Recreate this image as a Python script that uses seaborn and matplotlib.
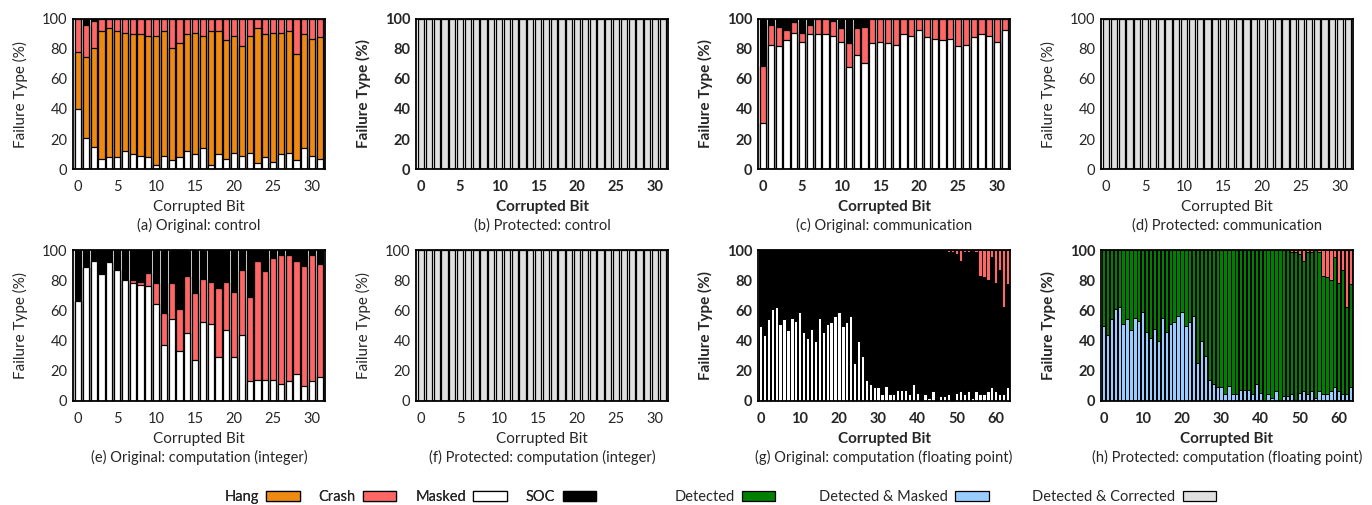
import numpy as np
import matplotlib
matplotlib.use("Agg")
import matplotlib.pyplot as plt
from matplotlib.patches import Patch
import seaborn as sns

# ---------------- data (percent per corrupted bit) ----------------

bits32 = list(range(32))
bits64 = list(range(64))

# (a) Original: control
masked_a = [40, 21, 15, 7, 8, 8, 12, 10, 9, 8, 3, 9, 6, 8, 12, 10,
            14, 3, 10, 7, 11, 9, 11, 4, 8, 5, 10, 11, 6, 14, 9, 7]
hang_a = [38, 54, 66, 85, 86, 84, 79, 80, 81, 81, 86, 83, 75, 76, 78, 81,
          75, 89, 82, 79, 78, 73, 78, 90, 82, 86, 81, 81, 71, 76, 78, 81]
crash_a = [22, 21, 18, 8, 6, 8, 9, 10, 10, 11, 11, 8, 19, 16, 10, 9,
           11, 8, 8, 14, 11, 18, 11, 6, 10, 9, 9, 8, 23, 10, 13, 12]

# (c) Original: communication
masked_c = [31, 83, 82, 86, 91, 85, 90, 90, 90, 89, 85, 68, 76, 71, 84, 85,
            84, 83, 90, 89, 93, 88, 87, 86, 87, 82, 83, 88, 90, 89, 85, 93]
crash_c = [38, 13, 13, 7, 7, 6, 6, 10, 10, 10, 9, 16, 18, 24, 16, 15,
           16, 17, 10, 11, 7, 12, 13, 14, 13, 18, 17, 12, 10, 11, 15, 7]

# (e) Original: computation (integer)
masked_e = [66, 89, 93, 84, 92, 87, 80, 78, 77, 76, 64, 37, 54, 33, 45, 27,
            52, 51, 29, 47, 29, 44, 13, 14, 14, 14, 11, 13, 18, 10, 13, 16]
crash_e = [0, 0, 0, 0, 0, 0, 0, 2, 1.5, 8.5, 14, 21, 24, 28, 38, 44.5,
           29, 27.5, 46, 32, 43, 43, 56, 78.5, 72, 80.5, 86, 83.5, 75, 79.5, 83.5, 74.5]

# (g)/(h) computation (floating point)
masked_g = [50, 44, 54, 61, 62, 51, 54, 47, 55, 53, 59, 46, 42, 48, 40, 55,
            46, 51, 52, 56, 59, 50, 52, 56, 25, 40, 30, 14, 11, 9, 9, 4.5,
            10, 4.5, 4.5, 7, 7, 7, 4.5, 11.5, 5.5, 0, 4.5, 2, 6.5, 0, 3.5, 3,
            4.5, 0, 5.5, 6.5, 4.5, 6.5, 2, 6.5, 4.5, 4.5, 6.5, 9, 6.5, 4.5, 4.5, 9]
crash_g = [0, 0, 0, 0, 0, 0, 0, 0, 0, 0, 0, 0, 0, 0, 0, 0,
           0, 0, 0, 0, 0, 0, 0, 0, 0, 0, 0, 0, 0, 0, 0, 0,
           0, 0, 0, 0, 0, 0, 0, 0, 0, 0, 0, 0, 0, 0, 0, 0,
           1.5, 1.5, 2.7, 7, 1.5, 1.5, 0, 1.5, 17.3, 17.7, 20, 4.4, 21.7, 13.3, 37.6, 22.6]

# protected control / communication / integer: everything detected & corrected
corrected_32 = [100] * 32

# remainders (SOC / Detected)
soc_a = list(np.clip(100 - np.array(masked_a) - hang_a - np.array(crash_a), 0, None))
soc_c = list(np.clip(100 - np.array(masked_c) - crash_c, 0, None))
soc_e = list(np.clip(100 - np.array(masked_e) - crash_e, 0, None))
soc_g = list(np.clip(100 - np.array(masked_g) - crash_g, 0, None))

C_HANG = "#EE8A12"
C_CRASH = "#FF6666"
C_MASKED = "#FFFFFF"
C_SOC = "#000000"
C_DET = "#007F00"
C_DETM = "#99CCFF"
C_DETC = "#E0E0E0"

# ---------------- style ----------------

sns.set_style("ticks")
plt.rcParams["font.family"] = ["Lato", "DejaVu Sans"]

fig = plt.figure(figsize=(13.72, 5.05), dpi=100)
W, H = 1372, 505


def add_ax(left_px, top_px, bottom_px, width_px=252):
    return fig.add_axes([left_px / W, 1 - bottom_px / H, width_px / W, (bottom_px - top_px) / H])


def stacked(ax, bits, layers, width, lw):
    tops = np.cumsum([np.asarray(v, float) for v, c in layers], axis=0)
    for i in range(len(layers) - 1, -1, -1):
        sns.barplot(x=bits, y=tops[i], color=layers[i][1], width=width,
                    saturation=1, errorbar=None, edgecolor="black",
                    linewidth=lw, ax=ax)


def finish(ax, n, caption, weight):
    ax.set_ylim(0, 100)
    step = 5 if n == 32 else 10
    ax.set_xlim(-0.65, n - 0.35)
    ax.set_xticks(list(range(0, n, step)))
    ax.set_xticklabels([str(t) for t in range(0, n, step)])
    ax.set_yticks([0, 20, 40, 60, 80, 100])
    ax.tick_params(axis="both", length=0, labelsize=10.5)
    ax.tick_params(axis="x", pad=8)
    ax.tick_params(axis="y", pad=4)
    for lab in ax.get_xticklabels() + ax.get_yticklabels():
        lab.set_fontweight(weight)
    ax.set_xlabel("Corrupted Bit", fontsize=11, labelpad=4, fontweight=weight)
    ax.set_ylabel("Failure Type (%)", fontsize=11, labelpad=10, fontweight=weight)
    for s in ax.spines.values():
        s.set_visible(True)
        s.set_linewidth(1.3)
        s.set_color("black")
    ax.text(0.5, -0.375, caption, transform=ax.transAxes, ha="center",
            va="center", fontsize=10.5)


lefts = [73, 416, 758, 1101]
row1 = (19, 169)
row2 = (250, 401)

# (a)
ax = add_ax(lefts[0], *row1)
stacked(ax, bits32, [(masked_a, C_MASKED), (hang_a, C_HANG), (crash_a, C_CRASH), (soc_a, C_SOC)], 0.78, 0.9)
finish(ax, 32, "(a) Original: control", "normal")

# (b)
ax = add_ax(lefts[1], *row1)
stacked(ax, bits32, [(corrected_32, C_DETC)], 0.78, 0.9)
finish(ax, 32, "(b) Protected: control", "bold")

# (c)
ax = add_ax(lefts[2], *row1)
stacked(ax, bits32, [(masked_c, C_MASKED), (crash_c, C_CRASH), (soc_c, C_SOC)], 0.78, 0.9)
finish(ax, 32, "(c) Original: communication", "bold")

# (d)
ax = add_ax(lefts[3], *row1)
stacked(ax, bits32, [(corrected_32, C_DETC)], 0.78, 0.9)
finish(ax, 32, "(d) Protected: communication", "normal")

# (e)
ax = add_ax(lefts[0], *row2)
stacked(ax, bits32, [(masked_e, C_MASKED), (crash_e, C_CRASH), (soc_e, C_SOC)], 0.78, 0.9)
finish(ax, 32, "(e) Original: computation (integer)", "normal")

# (f)
ax = add_ax(lefts[1], *row2)
stacked(ax, bits32, [(corrected_32, C_DETC)], 0.78, 0.9)
finish(ax, 32, "(f) Protected: computation (integer)", "normal")

# (g)
ax = add_ax(lefts[2], *row2)
stacked(ax, bits64, [(masked_g, C_MASKED), (soc_g, C_SOC), (crash_g, C_CRASH)], 0.85, 0.7)
finish(ax, 64, "(g) Original: computation (floating point)", "bold")

# (h)
ax = add_ax(lefts[3], *row2)
stacked(ax, bits64, [(masked_g, C_DETM), (soc_g, C_DET), (crash_g, C_CRASH)], 0.85, 0.7)
finish(ax, 64, "(h) Protected: computation (floating point)", "bold")

# ---------------- legends ----------------

def patch(c):
    return Patch(facecolor=c, edgecolor="black", linewidth=0.9)


leg1 = fig.legend([patch(C_HANG), patch(C_CRASH), patch(C_MASKED), patch(C_SOC)],
                  ["Hang", "Crash", "Masked", "SOC"],
                  loc="center", bbox_to_anchor=(0.299, 0.016), ncol=4,
                  frameon=False, markerfirst=False, fontsize=10.5,
                  handlelength=2.3, handleheight=0.65, handletextpad=0.5,
                  columnspacing=1.3)
fig.add_artist(leg1)
fig.legend([patch(C_DET), patch(C_DETM), patch(C_DETC)],
           ["Detected", "Detected & Masked", "Detected & Corrected"],
           loc="center", bbox_to_anchor=(0.689, 0.016), ncol=3,
           frameon=False, markerfirst=False, fontsize=10.5,
           handlelength=2.3, handleheight=0.65, handletextpad=0.5,
           columnspacing=3.0)

fig.savefig("out.png", dpi=100)
